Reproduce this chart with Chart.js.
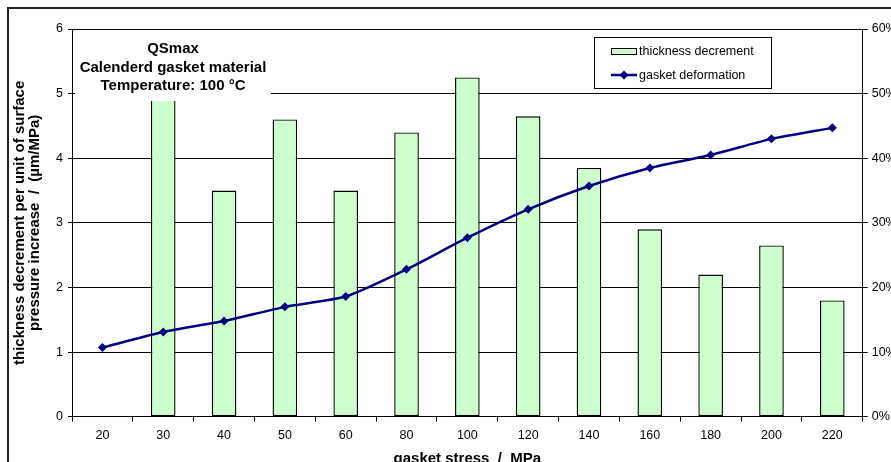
<!DOCTYPE html>
<html>
<head>
<meta charset="utf-8">
<script src="https://cdn.jsdelivr.net/npm/chart.js@4/dist/chart.umd.min.js"></script>
<style>
  html, body { margin: 0; padding: 0; background: #fff; }
  canvas { display: block; }
</style>
</head>
<body>
<canvas id="c" width="891" height="462"></canvas>
<script>
// ---- data ----
const categories = ['20', '30', '40', '50', '60', '80', '100', '120', '140', '160', '180', '200', '220'];
const thicknessDecrement = [null, 5.0, 3.5, 4.6, 3.5, 4.4, 5.25, 4.65, 3.85, 2.9, 2.2, 2.65, 1.8];
const gasketDeformation = [10.7, 13.1, 14.8, 17.0, 18.6, 22.8, 27.7, 32.1, 35.7, 38.5, 40.5, 43.0, 44.7];
const seriesLabels = ['thickness decrement', 'gasket deformation'];
const annotationLines = ['QSmax', 'Calenderd gasket material', 'Temperature: 100 °C'];
const yTitleLines = ['thickness decrement per unit of surface', 'pressure increase  /  (µm/MPa)'];
const xTitle = 'gasket stress  /  MPa';

const FONT = "'Liberation Sans', Arial, sans-serif";
Chart.defaults.font.family = FONT;
Chart.defaults.color = '#000';

const framePlugin = {
  id: 'frame',
  beforeDraw(chart) {
    const ctx = chart.ctx;
    ctx.save();
    ctx.fillStyle = '#fff';
    ctx.fillRect(0, 0, chart.width, chart.height);
    ctx.restore();
  },
  afterDraw(chart) {
    const ctx = chart.ctx;
    ctx.save();
    ctx.strokeStyle = '#222';
    ctx.lineWidth = 2;
    ctx.beginPath();
    ctx.moveTo(8, chart.height + 5);
    ctx.lineTo(8, 8);
    ctx.lineTo(chart.width + 5, 8);
    ctx.stroke();
    ctx.restore();
  }
};

const annotationPlugin = {
  id: 'annot',
  afterDatasetsDraw(chart) {
    const ctx = chart.ctx;
    const a = chart.chartArea;
    ctx.save();
    ctx.fillStyle = '#fff';
    ctx.fillRect(a.left + 3, a.top + 1, 196, 71);
    ctx.fillStyle = '#000';
    ctx.font = "bold 15px " + FONT;
    ctx.textAlign = 'center';
    ctx.textBaseline = 'middle';
    const cx = 173;
    const ys = [49, 67.5, 86];
    annotationLines.forEach((t, i) => ctx.fillText(t, cx, ys[i]));
    ctx.restore();
  },
  afterDraw(chart) {
    // legend box
    const ctx = chart.ctx;
    const ds = chart.data.datasets;
    const barDs = ds.find(d => d.type === 'bar');
    const lineDs = ds.find(d => d.type === 'line');
    ctx.save();
    ctx.fillStyle = '#fff';
    ctx.fillRect(594.5, 37.5, 177, 51);
    ctx.strokeStyle = '#000';
    ctx.lineWidth = 1;
    ctx.strokeRect(594.5, 37.5, 177, 51);
    // bar entry
    ctx.fillStyle = barDs.backgroundColor;
    ctx.fillRect(611.5, 48.5, 25, 6);
    ctx.strokeRect(611.5, 48.5, 25, 6);
    // line entry
    ctx.strokeStyle = lineDs.borderColor;
    ctx.lineWidth = 2.5;
    ctx.beginPath();
    ctx.moveTo(611, 75);
    ctx.lineTo(637, 75);
    ctx.stroke();
    ctx.fillStyle = lineDs.pointBackgroundColor;
    ctx.beginPath();
    ctx.moveTo(624, 70.5);
    ctx.lineTo(628.5, 75);
    ctx.lineTo(624, 79.5);
    ctx.lineTo(619.5, 75);
    ctx.closePath();
    ctx.fill();
    ctx.fillStyle = '#000';
    ctx.font = "12.5px " + FONT;
    ctx.textAlign = 'left';
    ctx.textBaseline = 'middle';
    ctx.fillText(barDs.label, 639, 51.5);
    ctx.fillText(lineDs.label, 639, 75.5);
    ctx.restore();
  }
};

new Chart(document.getElementById('c'), {
  data: {
    labels: categories,
    datasets: [
      {
        type: 'line',
        label: seriesLabels[1],
        data: gasketDeformation,
        yAxisID: 'y1',
        borderColor: '#000080',
        backgroundColor: '#000080',
        pointBackgroundColor: '#000080',
        pointBorderColor: '#000080',
        borderWidth: 2.5,
        pointStyle: 'rectRot',
        pointRadius: 4.5,
        pointBorderWidth: 0,
        tension: 0.2,
        order: 1
      },
      {
        type: 'bar',
        label: seriesLabels[0],
        data: thicknessDecrement,
        yAxisID: 'y',
        backgroundColor: '#CCFFCC',
        borderColor: '#000',
        borderWidth: 1.4,
        borderSkipped: false,
        barPercentage: 0.405,
        categoryPercentage: 1.0,
        order: 2
      }
    ]
  },
  options: {
    responsive: false,
    devicePixelRatio: 1,
    animation: false,
    layout: { padding: { left: 0, right: 0, top: 29, bottom: 0 } },
    plugins: {
      legend: { display: false },
      tooltip: { enabled: false }
    },
    scales: {
      x: {
        type: 'category',
        offset: true,
        grid: { offset: true, drawOnChartArea: false, drawTicks: true, tickLength: 5, color: '#000', lineWidth: 1 },
        border: { color: '#000', width: 1 },
        ticks: { color: '#000', font: { size: 12.5 }, padding: 6, maxRotation: 0, autoSkip: false },
        title: { display: true, text: xTitle, color: '#000', font: { size: 15, weight: 'bold', lineHeight: 1 }, padding: { top: 0, bottom: -4.5 } },
        afterFit(s) { s.height = 45.3; }
      },
      y: {
        position: 'left',
        min: 0, max: 6,
        ticks: { stepSize: 1, color: '#000', font: { size: 12.5 }, padding: 5 },
        grid: { color: '#000', lineWidth: 1, tickLength: 4, drawTicks: true },
        border: { color: '#000', width: 1 },
        title: { display: true, text: yTitleLines, color: '#000', font: { size: 15, weight: 'bold', lineHeight: 1 }, padding: { top: 12, bottom: 0 } },
        afterFit(s) { s.width = 72; }
      },
      y1: {
        position: 'right',
        min: 0, max: 60,
        ticks: { stepSize: 10, color: '#000', font: { size: 12.5 }, padding: 4, callback: v => v + '%' },
        grid: { drawOnChartArea: false, color: '#000', tickLength: 5, drawTicks: true },
        border: { color: '#000', width: 1 },
        afterFit(s) { s.width = 28.3; }
      }
    }
  },
  plugins: [framePlugin, annotationPlugin]
});
</script>
</body>
</html>
